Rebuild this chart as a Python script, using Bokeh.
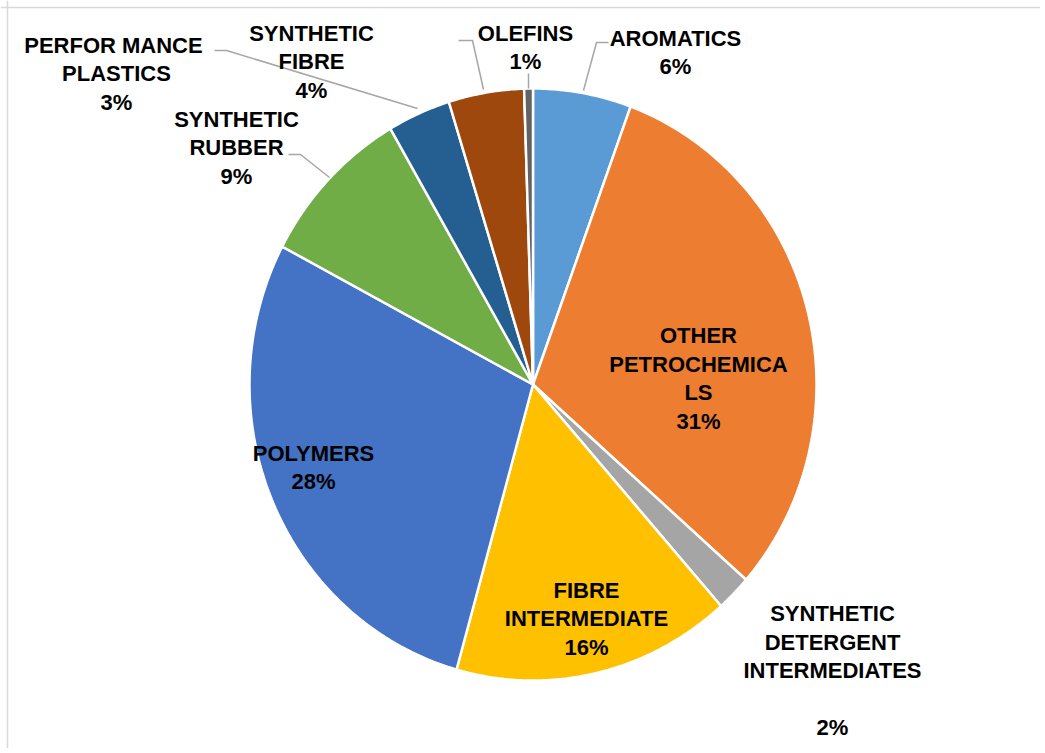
import numpy as np
from bokeh.plotting import figure
from bokeh.models import Range1d, ColumnDataSource, Span
from bokeh.core.properties import value
from bokeh.embed import file_html
from bokeh.resources import INLINE

# ---------------- data ----------------
categories = ["AROMATICS", "OTHER PETROCHEMICALS", "SYNTHETIC DETERGENT INTERMEDIATES",
              "FIBRE INTERMEDIATE", "POLYMERS", "SYNTHETIC RUBBER",
              "PERFORMANCE PLASTICS", "SYNTHETIC FIBRE", "OLEFINS"]
shares = [5.6, 30.9, 2.0, 15.9, 28.4, 8.9, 3.6, 4.3, 0.5]
pct_labels = ["6%", "31%", "2%", "16%", "28%", "9%", "3%", "4%", "1%"]
label_names = ["AROMATICS", "OTHER\nPETROCHEMICA\nLS", "SYNTHETIC\nDETERGENT\nINTERMEDIATES\n",
               "FIBRE\nINTERMEDIATE", "POLYMERS", "SYNTHETIC\nRUBBER",
               "PERFOR  MANCE\nPLASTICS", "SYNTHETIC\nFIBRE", "OLEFINS"]
colors = ["#5B9BD5", "#ED7D31", "#A5A5A5", "#FFC000", "#4472C4", "#70AD47",
          "#255E91", "#9E480E", "#636363"]

# ---------------- layout ----------------
W, H = 1040, 748
CX, CY = 532.5, 384.0      # pie centre (px)
RX, RY = 283.5, 296.0      # pie radii (px)

# label block centres (px) -- layout only
label_pos = [(675, 52), (698, 378), (832, 670), (586, 618), (313, 467),
             (236, 147), (116, 73), (311, 61), (525, 47)]
# leader lines (px) -- layout only
leaders = [
    [(608, 42), (596, 42), (583, 90)],
    [(214, 50), (226, 50), (417, 108)],
    [(288, 154), (300, 154), (329, 177)],
    [(458, 40), (472, 40), (483, 89)],
    [(528, 73), (528, 88)],
]


def to_data(px, py):
    return (px - CX) / RX, (CY - py) / RY


p = figure(width=W, height=H, output_backend="svg", toolbar_location=None,
           x_range=Range1d(-CX / RX, (W - CX) / RX),
           y_range=Range1d(-(H - CY) / RY, CY / RY),
           x_axis_location=None, y_axis_location=None, min_border=0)
p.grid.visible = False
p.outline_line_color = None
p.background_fill_color = "white"

# frame border (only top/left visible as in reference)
bx, by = to_data(7, 7)
p.add_layout(Span(location=bx, dimension="height", line_color="#D9D9D9", line_width=1.5))
p.add_layout(Span(location=by, dimension="width", line_color="#D9D9D9", line_width=1.5))

# slices
fr = np.cumsum([0] + shares) / sum(shares)
xs, ys = [], []
for i in range(len(shares)):
    n = max(3, int(shares[i] * 6))
    t = np.linspace(fr[i], fr[i + 1], n) * 2 * np.pi
    xs.append([0.0] + list(np.sin(t)))
    ys.append([0.0] + list(np.cos(t)))
src = ColumnDataSource(dict(xs=xs, ys=ys, color=colors, cat=categories))
p.patches("xs", "ys", source=src, fill_color="color", line_color="white", line_width=2.5)

# leader lines
for ln in leaders:
    pts = [to_data(a, b) for a, b in ln]
    p.line([q[0] for q in pts], [q[1] for q in pts], line_color="#A6A6A6", line_width=1.5)

# labels
lx, ly, lt = [], [], []
for (px, py), nm, pc in zip(label_pos, label_names, pct_labels):
    dx, dy = to_data(px, py)
    lx.append(dx)
    ly.append(dy)
    lt.append(nm + "\n" + pc)
p.text(lx, ly, text=lt, text_align="center", text_baseline="middle",
       text_font=value("Liberation Sans"), text_font_style="bold",
       text_font_size="22px", text_color="#000000", text_line_height=1.14)

open("out.html", "w").write(file_html(p, INLINE))
